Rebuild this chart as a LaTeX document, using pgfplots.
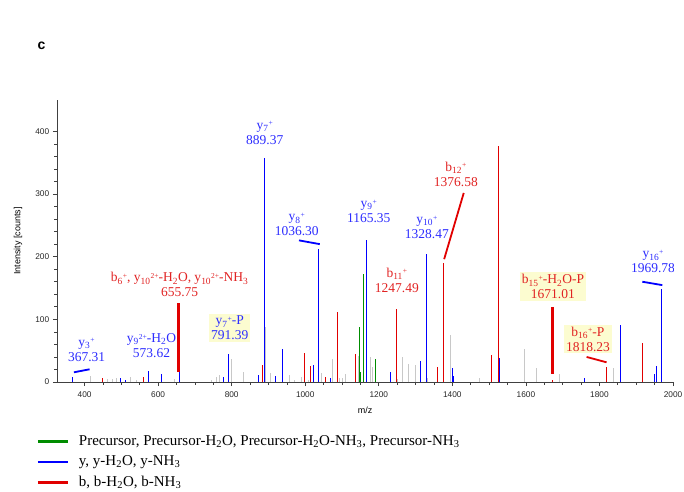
\documentclass[border=0pt]{standalone}
\usepackage{fontspec}
\setmainfont{Liberation Serif}
\setsansfont{Liberation Sans}
\usepackage{pgfplots}
\pgfplotsset{compat=1.18}
\usepackage{pgfplotstable}

\definecolor{pkblue}{RGB}{0,0,255}
\definecolor{pkred}{RGB}{225,0,0}
\definecolor{pkgreen}{RGB}{0,140,0}
\definecolor{pkgray}{RGB}{200,200,200}
\definecolor{lblblue}{RGB}{45,45,255}
\definecolor{lblred}{RGB}{225,35,35}
\definecolor{boxfill}{RGB}{252,252,208}

\pgfplotstableread{
mz h
415 9.6
463 4.8
476 5
486 5.8
525 7.4
540 4
645 4.8
745 4
758 7.4
767 11
799 36
831 16.5
893 88
905 15
956 11
971 4
990 7.4
1008 4
1044 14
1074 36
1094 7
1101 7
1110 12
1144 42
1177 40
1183 24
1252 5
1264.5 40
1280 29
1301 27
1332 6
1395 75
1473 6
1597 52
1629 22
1692.5 12
1837.5 22
}\graypeaks

\pgfplotstableread{
mz h
1148 88
1151 16
1159 172
1192 36
}\greenpeaks

\pgfplotstableread{
mz h
367.3 8
497 6
511 3
573.6 17.5
610 12
657 16.5
778 8
791.4 44
874 11
889.4 357
920 10
938 52
1023 27
1036.3 213
1068 6
1165.4 227
1233 16
1313 34
1328.5 204
1400.5 22
1403 10
1529 38
1758 6
1856 91
1951 12
1955.5 26
1969.8 148
}\bluepeaks

\pgfplotstableread{
mz h
448 6
559 7.4
883.5 27
997 46
1015 25
1056 7.4
1088 112
1135.5 44
1247.5 117
1360 24
1376.6 190
1507.5 43
1524.7 377
1671 4
1818.2 24
1917.6 63
}\redpeaks

\newcommand{\lbl}{\fontsize{13.5}{15}\selectfont}
\newcommand{\sbs}[1]{\textsubscript{#1}}
\newcommand{\sps}[1]{\raisebox{0.55ex}{\fontsize{7.5}{8}\selectfont #1}}

\begin{document}
\begin{tikzpicture}
\useasboundingbox (0,0) rectangle (684pt,491pt);
\begin{axis}[
  at={(57pt,109pt)}, anchor=south west,
  scale only axis, width=616pt, height=282pt,
  xmin=325, xmax=2000, ymin=0, ymax=450,
  axis lines*=left,
  axis line style={black!75, line width=0.8pt},
  every tick/.style={black!75, line width=0.7pt},
  xtick={400,600,...,2000}, ytick={0,100,...,400},
  minor x tick num=3, minor y tick num=4,
  tick align=outside,
  major tick length=4pt, minor tick length=2.5pt,
  scaled ticks=false,
  /pgf/number format/1000 sep={},
  /pgf/number format/assume math mode=true,
  ticklabel style={font=\sffamily\fontsize{8.3}{9}\selectfont, text=black!85},
  xticklabel style={yshift=-2pt},
  xlabel={m/z}, ylabel={Intensity [counts]},
  label style={font=\sffamily\fontsize{9}{10}\selectfont},
  xlabel style={yshift=-2pt},
  ylabel style={yshift=6pt},
  ycomb, line width=1pt,
  legend style={at={(axis description cs:-0.034,-0.18)}, anchor=north west,
    draw=none, fill=none, inner sep=0pt,
    font=\fontsize{15}{16}\selectfont, row sep=4pt,
    nodes={inner ysep=1pt, inner xsep=0pt, text height=11pt, text depth=3.5pt}},
  legend cell align=left,
  /tikz/every even column/.append style={column sep=0pt},
  legend image code/.code={\draw[line width=2.4pt] (0pt,0pt) -- (30pt,0pt);},
]
\addplot[pkgray, mark=none, forget plot] table[x=mz,y=h] {\graypeaks};
\addplot[pkgreen, mark=none] table[x=mz,y=h] {\greenpeaks};
\addlegendentry{\hspace{10pt}Precursor, Precursor-H\sbs{2}O, Precursor-H\sbs{2}O-NH\sbs{3}, Precursor-NH\sbs{3}}
\addplot[pkblue, mark=none] table[x=mz,y=h] {\bluepeaks};
\addlegendentry{\hspace{10pt}y, y-H\sbs{2}O, y-NH\sbs{3}}
\addplot[pkred, mark=none] table[x=mz,y=h] {\redpeaks};
\addlegendentry{\hspace{10pt}b, b-H\sbs{2}O, b-NH\sbs{3}}

% connectors
\draw[pkblue, line width=1.8pt] (axis cs:371,15.5) -- (axis cs:413.6,20.3);
\draw[pkred, line width=3pt] (axis cs:656.5,126) -- (axis cs:656.5,16.5);
\draw[pkblue, line width=1.8pt] (axis cs:983,226) -- (axis cs:1039.5,220);
\draw[pkred, line width=1.8pt] (axis cs:1431,301.7) -- (axis cs:1377.7,196);
\draw[pkred, line width=3pt] (axis cs:1672.5,120) -- (axis cs:1672.5,13);
\draw[pkred, line width=1.8pt] (axis cs:1765,40) -- (axis cs:1819.4,31.4);
\draw[pkblue, line width=1.8pt] (axis cs:1916.5,160) -- (axis cs:1971,154.6);

% labels
\begin{scope}[every node/.style={font=\lbl, align=center, inner sep=1pt}]
\node[text=lblblue] at (axis cs:405.4,51) {y\sbs{3}\sps{+}\\367.31};
\node[text=lblblue] at (axis cs:582,58) {y\sbs{9}\sps{2+}-H\sbs{2}O\\573.62};
\node[text=lblred] at (axis cs:658.5,155) {b\sbs{6}\sps{+}, y\sbs{10}\sps{2+}-H\sbs{2}O, y\sbs{10}\sps{2+}-NH\sbs{3}\\655.75};
\node[text=lblblue, fill=boxfill, inner xsep=2pt, inner ysep=2pt] at (axis cs:794.6,86) {y\sbs{7}\sps{+}-P\\791.39};
\node[text=lblblue] at (axis cs:889.8,397.6) {y\sbs{7}\sps{+}\\889.37};
\node[text=lblblue] at (axis cs:977,251) {y\sbs{8}\sps{+}\\1036.30};
\node[text=lblblue] at (axis cs:1172.8,272.5) {y\sbs{9}\sps{+}\\1165.35};
\node[text=lblblue] at (axis cs:1330.6,247) {y\sbs{10}\sps{+}\\1328.47};
\node[text=lblred] at (axis cs:1249,162.5) {b\sbs{11}\sps{+}\\1247.49};
\node[text=lblred] at (axis cs:1409.5,332) {b\sbs{12}\sps{+}\\1376.58};
\node[text=lblred, fill=boxfill, inner xsep=2pt, inner ysep=2pt] at (axis cs:1673.5,152) {b\sbs{15}\sps{+}-H\sbs{2}O-P\\1671.01};
\node[text=lblred, fill=boxfill, inner xsep=2pt, inner ysep=2pt] at (axis cs:1768.7,68.5) {b\sbs{16}\sps{+}-P\\1818.23};
\node[text=lblblue] at (axis cs:1945.6,192) {y\sbs{16}\sps{+}\\1969.78};
\end{scope}
\end{axis}
\node[font=\sffamily\bfseries\fontsize{14}{16}\selectfont] at (41.5pt,445pt) {c};
\end{tikzpicture}
\end{document}
